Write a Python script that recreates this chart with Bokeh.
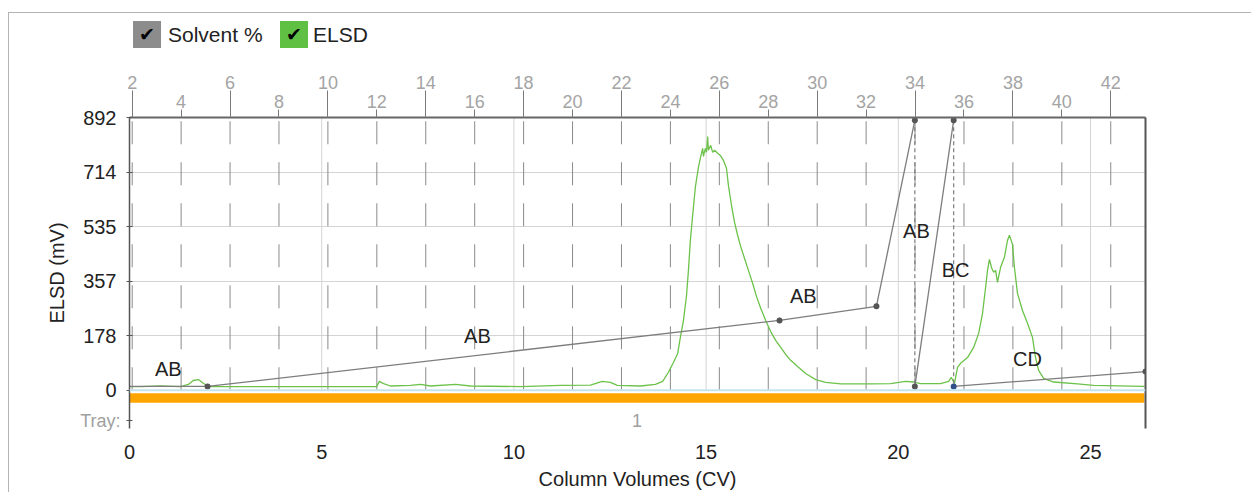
from bokeh.plotting import figure
from bokeh.models import Range1d, LinearAxis, FixedTicker, ColumnDataSource, Span, Div
from bokeh.layouts import column
from bokeh.embed import file_html
from bokeh.resources import INLINE
from bokeh.core.properties import value

# ---------------- data ----------------
elsd_cv = [0.00, 0.29, 0.81, 1.33, 1.53, 1.66, 1.79, 1.93, 2.06, 3.15, 4.45, 5.75, 6.43, 6.50, 6.61, 6.79,
           7.31, 7.57, 7.83, 8.48, 8.87, 10.17, 11.21, 11.99, 12.30, 12.51, 12.69, 13.29, 13.68, 13.87,
           14.02, 14.15, 14.26, 14.33, 14.41, 14.49, 14.54, 14.59, 14.65, 14.72, 14.80, 14.85, 14.91,
           14.93, 14.98, 15.01, 15.04, 15.06, 15.12, 15.17, 15.22, 15.30, 15.37, 15.45, 15.53, 15.58,
           15.66, 15.74, 15.82, 15.89, 16.00, 16.10, 16.21, 16.31, 16.42, 16.55, 16.68, 16.81, 16.94,
           17.07, 17.20, 17.38, 17.59, 17.85, 18.11, 18.50, 19.28, 19.80, 20.19, 20.40, 20.58, 21.10,
           21.31, 21.38, 21.46, 21.54, 21.62, 21.80, 21.96, 22.09, 22.19, 22.27, 22.32, 22.37, 22.43,
           22.48, 22.53, 22.58, 22.66, 22.76, 22.84, 22.89, 22.97, 23.02, 23.10, 23.23, 23.36, 23.49,
           23.57, 23.65, 23.78, 24.04, 24.66, 25.08, 26.40]
elsd_mv = [12, 12, 14, 12, 19, 32, 35, 22, 12, 12, 12, 12, 12, 29, 22, 14,
           16, 19, 14, 19, 14, 12, 16, 17, 29, 26, 16, 14, 19, 29,
           59, 91, 120, 173, 228, 310, 392, 490, 572, 664, 729, 759, 791,
           765, 791, 778, 830, 785, 801, 778, 785, 775, 768, 752, 726, 670,
           605, 549, 507, 474, 431, 392, 350, 307, 268, 228, 192, 163, 140,
           117, 98, 78, 55, 35, 26, 21, 21, 22, 29, 27, 22, 22,
           29, 42, 22, 75, 88, 107, 140, 186, 251, 336, 392, 428, 399,
           386, 392, 353, 402, 435, 490, 507, 477, 402, 317, 261, 219, 173,
           107, 65, 39, 27, 21, 16, 13]

solvent_cv = [0.00, 2.03, 16.91, 19.43, 20.43, 20.43, 21.44, 21.44, 26.43]
solvent_pct = [0.0, 0.0, 24.8, 30.1, 100.0, 0.0, 100.0, 0.0, 5.6]

seg_labels = ["AB", "AB", "AB", "AB", "BC", "CD"]
seg_label_cv = [1.01, 9.05, 17.53, 20.47, 21.49, 23.36]
seg_label_mv = [68, 179, 307, 522, 392, 101]

x_ticks = [0, 5, 10, 15, 20, 25]
y_ticks = [0, 178.4, 356.8, 535.2, 713.6, 892]
y_tick_labels = ["0", "178", "357", "535", "714", "892"]
top_ticks_upper = [2, 6, 10, 14, 18, 22, 26, 30, 34, 38, 42]
top_ticks_lower = [4, 8, 12, 16, 20, 24, 28, 32, 36, 40]

tray_names = ["1"]
tray_start_cv = [0.0]
tray_end_cv = [26.4]
tray_caption = "Tray:"
tray_row_mv = -99

FONT = "Liberation Sans"

# ---------------- figure ----------------
p = figure(width=1242, height=424, output_backend="svg", toolbar_location=None,
           x_range=Range1d(0, 26.43), y_range=Range1d(-125.0, 892),
           min_border_left=120, min_border_right=106, min_border_top=49, min_border_bottom=64,
           background_fill_color="white", border_fill_color="white", margin=(0, 0, 0, 8))
p.outline_line_color = None
p.extra_x_ranges = {"top": Range1d(1.89, 43.42)}
p.extra_y_ranges = {"solvent": Range1d(-15.79, 101.0)}
p.styles = {"border-left": "1px solid #b4b4b4"}

p.xgrid.visible = False
p.ygrid.ticker = FixedTicker(ticks=y_ticks[1:-1])
p.ygrid.grid_line_color = "#d4d4d4"

# bottom axis (CV)
xa = p.below[0]
xa.ticker = FixedTicker(ticks=x_ticks)
xa.axis_line_color = None
xa.major_tick_line_color = None
xa.minor_tick_line_color = None
xa.major_label_standoff = 10
xa.major_label_text_font = FONT
xa.major_label_text_font_size = "20px"
xa.major_label_text_color = "#222222"
xa.axis_label = "Column Volumes (CV)"
xa.axis_label_standoff = 6
xa.axis_label_text_font = FONT
xa.axis_label_text_font_size = "20px"
xa.axis_label_text_font_style = "normal"
xa.axis_label_text_color = "#222222"

# left side: inner axis = axis line, ticks and the grey "Tray:" caption;
# outer axis = ELSD tick labels and title
lab_axis = LinearAxis(ticker=FixedTicker(ticks=y_ticks + [tray_row_mv]),
                      major_label_overrides={**{t: "" for t in y_ticks}, tray_row_mv: tray_caption},
                      axis_line_color="#555555", axis_line_width=1.5,
                      major_tick_line_color="#555555", major_tick_in=3, major_tick_out=3,
                      minor_tick_line_color=None, major_label_standoff=6,
                      major_label_text_font=FONT, major_label_text_font_size="18px",
                      major_label_text_color="#a0a0a0")
ya = p.left[0]
ya.ticker = FixedTicker(ticks=y_ticks)
ya.major_label_overrides = {t: l for t, l in zip(y_ticks, y_tick_labels)}
ya.axis_line_color = None
ya.major_tick_line_color = None
ya.major_tick_in = 0
ya.major_tick_out = 0
ya.minor_tick_line_color = None
ya.major_label_standoff = -39
ya.major_label_text_font = FONT
ya.major_label_text_font_size = "20px"
ya.major_label_text_color = "#222222"
ya.axis_label = "ELSD (mV)"
ya.axis_label_standoff = 12
ya.axis_label_text_font = FONT
ya.axis_label_text_font_size = "20px"
ya.axis_label_text_font_style = "normal"
ya.axis_label_text_color = "#222222"
p.left = [lab_axis, ya]

# right border axis
ra = LinearAxis(ticker=FixedTicker(ticks=[]), axis_line_color="#555555", axis_line_width=2,
                major_tick_line_color=None, minor_tick_line_color=None)
p.add_layout(ra, "right")

# top axes (staggered labels)
top_label_style = dict(major_label_text_font=FONT, major_label_text_font_size="18px",
                       major_label_text_color="#a4a4a4", minor_tick_line_color=None,
                       major_tick_line_color="#7a7a7a")
ax_in = LinearAxis(x_range_name="top", ticker=FixedTicker(ticks=top_ticks_lower),
                   axis_line_color="#666666", axis_line_width=2, major_tick_out=8, major_tick_in=0,
                   major_label_standoff=2, **top_label_style)
p.add_layout(ax_in, "above")
ax_out = LinearAxis(x_range_name="top", ticker=FixedTicker(ticks=top_ticks_upper),
                    axis_line_color=None, major_tick_out=1, major_tick_in=26,
                    major_label_standoff=2, **top_label_style)
p.add_layout(ax_out, "above")

# grid-like vertical lines
p.segment(x0=x_ticks[1:], y0=0, x1=x_ticks[1:], y1=y_ticks[-1], line_color="#d4d4d4", line_width=1)
top_all = sorted(top_ticks_upper + top_ticks_lower)
p.segment(x0=top_all, y0=0, x1=top_all, y1=y_ticks[-1], x_range_name="top",
          line_color="#8a8a8a", line_width=1, line_dash="23 18")

# tray bar and its label
p.quad(left=tray_start_cv, right=tray_end_cv, bottom=-41, top=-9.5, fill_color="#ffa500",
       line_color=None)
p.text(x=[(s + e) / 2 for s, e in zip(tray_start_cv, tray_end_cv)], y=[tray_row_mv] * len(tray_names),
       text=tray_names, text_font=value(FONT), text_font_size=value("18px"), text_align="center",
       text_baseline="middle", text_color="#a0a0a0")
p.add_layout(Span(location=0, dimension="width", line_color="#c4e4ec", line_width=2))

# ELSD trace
p.line(elsd_cv, elsd_mv, line_color="#6cc24a", line_width=1.3)

# Solvent % line
solid = dict(x0=[], y0=[], x1=[], y1=[])
dashed = dict(x0=[], y0=[], x1=[], y1=[])
for i in range(len(solvent_cv) - 1):
    tgt = dashed if solvent_cv[i] == solvent_cv[i + 1] else solid
    tgt["x0"].append(solvent_cv[i]); tgt["y0"].append(solvent_pct[i])
    tgt["x1"].append(solvent_cv[i + 1]); tgt["y1"].append(solvent_pct[i + 1])
p.segment(source=ColumnDataSource(solid), x0="x0", y0="y0", x1="x1", y1="y1",
          y_range_name="solvent", line_color="#7d7d7d", line_width=1.3)
p.segment(source=ColumnDataSource(dashed), x0="x0", y0="y0", x1="x1", y1="y1",
          y_range_name="solvent", line_color="#7d7d7d", line_width=1.2, line_dash="4 3")
mk_colors = ["#555555"] * len(solvent_cv)
mk_colors[7] = "#2f4f8a"
p.scatter(solvent_cv[1:], solvent_pct[1:], y_range_name="solvent", size=6,
          color=mk_colors[1:], line_color=None)

# segment labels
p.text(x=seg_label_cv, y=seg_label_mv, text=seg_labels, text_font=value(FONT),
       text_font_size=value("20px"), text_align="center", text_baseline="middle",
       text_color="#222222")

legend_html = """
<div style="position:relative;width:1252px;height:68px;font-family:'Liberation Sans',Arial,sans-serif;">
  <div style="position:absolute;left:8px;top:12px;width:1243px;height:56px;border-top:1px solid #b4b4b4;border-left:1px solid #b4b4b4;"></div>
  <div style="position:absolute;left:133px;top:21px;width:28px;height:27px;background:#8c8c8c;color:#000;font-size:19px;line-height:27px;text-align:center;">&#10004;</div>
  <div style="position:absolute;left:168px;top:21px;font-size:21px;line-height:27px;color:#222;">Solvent %</div>
  <div style="position:absolute;left:280px;top:21px;width:28px;height:27px;background:#5fc043;color:#000;font-size:19px;line-height:27px;text-align:center;">&#10004;</div>
  <div style="position:absolute;left:313px;top:21px;font-size:21px;line-height:27px;color:#222;">ELSD</div>
</div>
"""
legend_div = Div(text=legend_html, width=1252, height=68, margin=(0, 0, 0, 0))

layout = column(legend_div, p, spacing=0)
open("out.html", "w").write(file_html(layout, INLINE))
